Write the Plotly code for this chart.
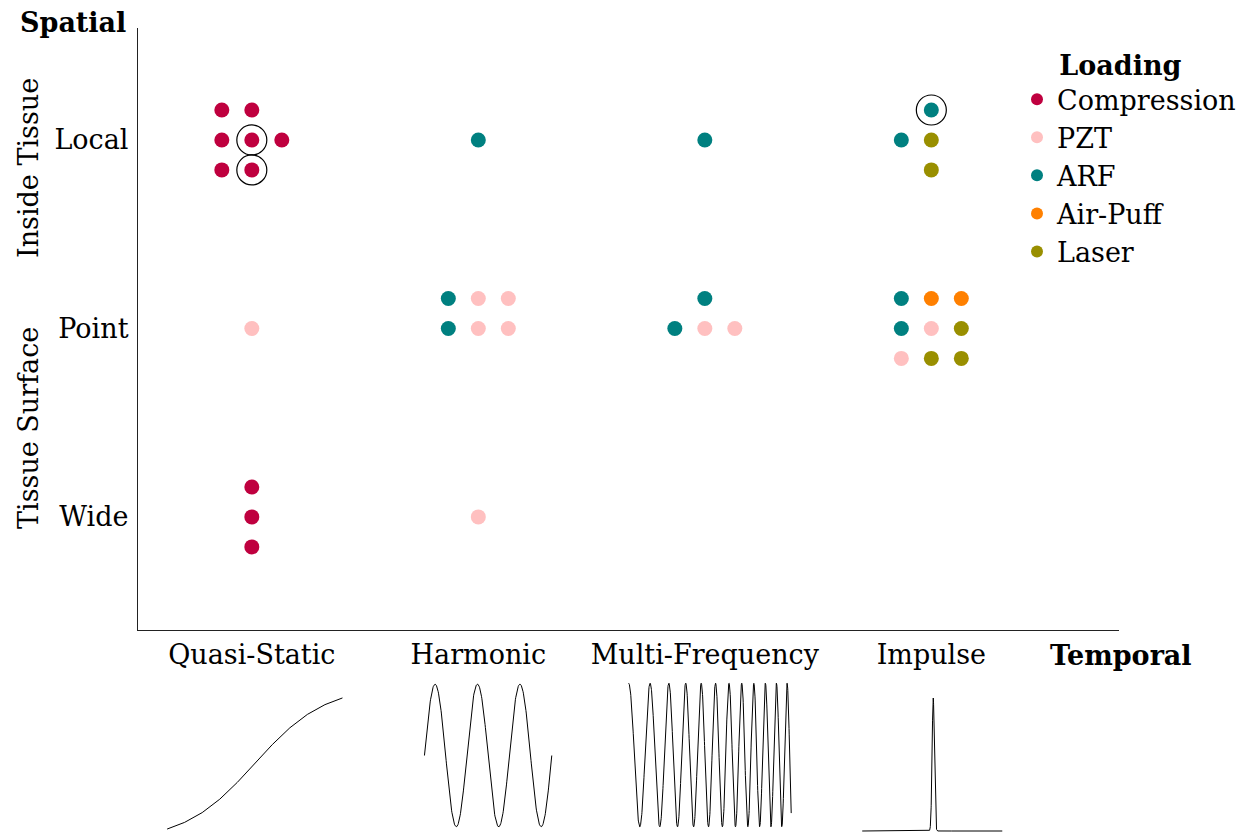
import numpy as np
import plotly.graph_objects as go

# ---------------- data ----------------
temporal_cats = ["Quasi-Static", "Harmonic", "Multi-Frequency", "Impulse"]
spatial_cats = ["Wide", "Point", "Local"]
loadings = ["Compression", "PZT", "ARF", "Air-Puff", "Laser"]
loading_colors = ["#BF003F", "#FFC0C0", "#008080", "#FF8000", "#998F00"]

# each study: temporal category, spatial category, loading, slot column, slot row, highlighted
pt_temporal = (["Quasi-Static"] * 11 + ["Harmonic"] * 8 + ["Multi-Frequency"] * 5 + ["Impulse"] * 13)
pt_spatial = (["Local"] * 7 + ["Point"] + ["Wide"] * 3
              + ["Local"] + ["Point"] * 6 + ["Wide"]
              + ["Local"] + ["Point"] * 4
              + ["Local"] * 4 + ["Point"] * 9)
pt_loading = (["Compression"] * 7 + ["PZT"] + ["Compression"] * 3
              + ["ARF"] + ["ARF"] * 2 + ["PZT"] * 4 + ["PZT"]
              + ["ARF"] + ["ARF"] * 2 + ["PZT"] * 2
              + ["ARF"] * 2 + ["Laser"] * 2
              + ["ARF"] * 2 + ["Air-Puff"] * 2 + ["PZT"] * 2 + ["Laser"] * 3)
pt_col = ([-1, 0, -1, 0, 1, -1, 0] + [0] + [0, 0, 0]
          + [0] + [-1, -1] + [0, 1, 0, 1] + [0]
          + [0] + [0, -1] + [0, 1]
          + [0, -1] + [0, 0]
          + [-1, -1] + [0, 1] + [0, -1] + [1, 0, 1])
pt_row = ([1, 1, 0, 0, 0, -1, -1] + [0] + [1, 0, -1]
          + [0] + [1, 0] + [1, 1, 0, 0] + [0]
          + [0] + [1, 0] + [0, 0]
          + [1, 0] + [0, -1]
          + [1, 0] + [1, 1] + [0, -1] + [0, -1, -1])
pt_highlight = ([False, False, False, True, False, False, True] + [False] * 4
                + [False] * 8 + [False] * 5
                + [True] + [False] * 12)

# waveform glyph parameters
harmonic_cycles = 3
chirp_f0, chirp_f1 = 7.0, 15.8
impulse_center, impulse_width = 0.507, 0.008
sigmoid_steepness = 5.0

# ---------------- layout helpers ----------------
W, H = 1241, 835
def px(x):
    return x / W
def py(y):
    return 1 - y / H

SLOT_DX = 0.1324
SLOT_DY = 0.159

fig = go.Figure()

t_index = {c: i for i, c in enumerate(temporal_cats)}
s_index = {c: i for i, c in enumerate(spatial_cats)}

for name, color in zip(loadings, loading_colors):
    xs, ys = [], []
    for t, s, l, c, r in zip(pt_temporal, pt_spatial, pt_loading, pt_col, pt_row):
        if l == name:
            xs.append(t_index[t] + c * SLOT_DX)
            ys.append(s_index[s] + r * SLOT_DY)
    fig.add_trace(go.Scatter(x=xs, y=ys, mode="markers", name=name,
                             marker=dict(size=15, color=color, line=dict(width=0)),
                             cliponaxis=False))

hx, hy = [], []
for t, s, c, r, h in zip(pt_temporal, pt_spatial, pt_col, pt_row, pt_highlight):
    if h:
        hx.append(t_index[t] + c * SLOT_DX)
        hy.append(s_index[s] + r * SLOT_DY)
fig.add_trace(go.Scatter(x=hx, y=hy, mode="markers", showlegend=False,
                         marker=dict(size=30, symbol="circle-open", color="black",
                                     line=dict(width=1.2, color="black"))))

# ---------------- waveform glyphs ----------------
t_sig = np.linspace(0, 1, 11)
sig = 1 / (1 + np.exp(-sigmoid_steepness * (t_sig - 0.5)))
sig = (sig - sig.min()) / (sig.max() - sig.min())
t_h = np.linspace(0, 1, 400)
harm = np.sin(2 * np.pi * harmonic_cycles * t_h)
t_c = np.linspace(0, 1, 1200)
chirp = np.cos(2 * np.pi * (chirp_f0 * t_c + (chirp_f1 - chirp_f0) * t_c ** 2 / 2))
t_i = np.linspace(0, 1, 3000)
imp = np.exp(-0.5 * ((t_i - impulse_center) / impulse_width) ** 2)

glyphs = [
    (t_sig, sig, (168, 342), (697, 830), (0, 1)),
    (t_h, harm, (426, 551), (683, 828), (-1, 1)),
    (t_c, chirp, (630, 791), (682, 828), (-1, 1)),
    (t_i, imp, (864, 1002), (697, 832), (0, 1)),
]
for k, (gx, gy, xd, yd, yr) in enumerate(glyphs, start=2):
    fig.add_trace(go.Scatter(x=gx, y=gy, mode="lines", showlegend=False,
                             line=dict(color="black", width=1),
                             xaxis=f"x{k}", yaxis=f"y{k}", hoverinfo="skip"))
    pad = 0.02 * (yr[1] - yr[0])
    fig.update_layout(**{
        f"xaxis{k}": dict(domain=[px(xd[0]) - 0.002, px(xd[1]) + 0.002], range=[-0.01, 1.01],
                          visible=False, anchor=f"y{k}", fixedrange=True),
        f"yaxis{k}": dict(domain=[py(yd[1]) - 0.002, py(yd[0]) + 0.002],
                          range=[yr[0] - pad, yr[1] + pad],
                          visible=False, anchor=f"x{k}", fixedrange=True),
    })

FONT = "DejaVu Serif"
FS = 27

fig.update_layout(
    width=W, height=H,
    margin=dict(l=0, r=0, t=0, b=0),
    paper_bgcolor="white", plot_bgcolor="white",
    font=dict(family=FONT, size=FS, color="black"),
    xaxis=dict(domain=[px(138), px(1120)], range=[-0.503, 3.829],
               tickvals=list(range(len(temporal_cats))), ticktext=temporal_cats,
               showgrid=False, zeroline=False, showline=True, linecolor="#222",
               linewidth=1, ticks="", ticklabelstandoff=1, anchor="y"),
    yaxis=dict(domain=[py(630), py(28)], range=[-0.6, 2.594],
               tickvals=list(range(len(spatial_cats))), ticktext=spatial_cats,
               showgrid=False, zeroline=False, showline=True, linecolor="#222",
               linewidth=1, ticks="", ticklabelstandoff=3, anchor="x"),
    legend=dict(x=px(1018), y=py(40), xanchor="left", yanchor="top",
                title=dict(text="<b>Loading</b>&nbsp;&nbsp;", font=dict(size=FS),
                           side="top center"),
                font=dict(size=FS), itemsizing="constant", bgcolor="rgba(0,0,0,0)",
                tracegroupgap=0),
    annotations=[
        dict(text="<b>Spatial</b>", x=px(128), y=py(22), xref="paper", yref="paper",
             xanchor="right", yanchor="middle", showarrow=False, font=dict(size=FS)),
        dict(text="<b>Temporal</b>", x=px(1122), y=py(655), xref="paper", yref="paper",
             xanchor="center", yanchor="middle", showarrow=False, font=dict(size=FS)),
        dict(text="Inside Tissue", x=px(28), y=py(168), xref="paper", yref="paper",
             xanchor="center", yanchor="middle", showarrow=False, textangle=-90,
             font=dict(size=FS)),
        dict(text="Tissue Surface", x=px(28), y=py(428), xref="paper", yref="paper",
             xanchor="center", yanchor="middle", showarrow=False, textangle=-90,
             font=dict(size=FS)),
    ],
)

fig.write_html("out.html", config={"displayModeBar": False},
               post_script="document.body.style.margin='0';")
